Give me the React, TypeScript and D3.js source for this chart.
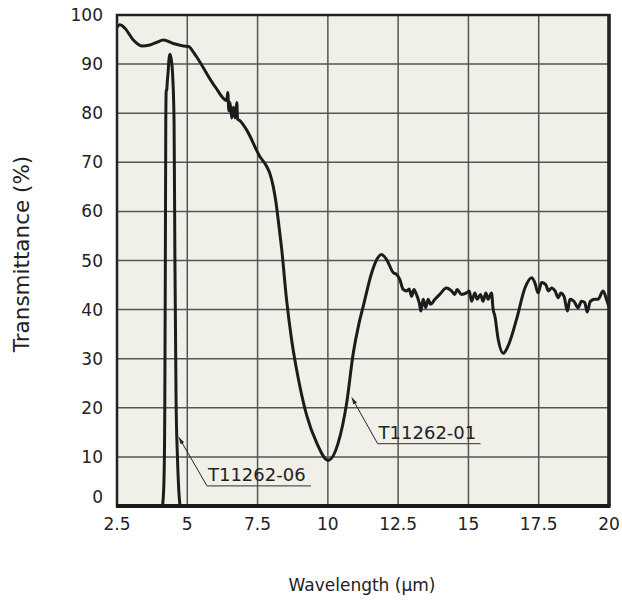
import React from "react";
import * as d3 from "d3";

const xTicks = [2.5, 5, 7.5, 10, 12.5, 15, 17.5, 20];
const yTicks = [0, 10, 20, 30, 40, 50, 60, 70, 80, 90, 100];

// T11262-01 transmittance curve (wavelength µm, %)
const wl01 = [
  2.5, 2.6, 2.78, 3.08, 3.38, 3.67, 3.9, 4.15, 4.5, 4.86, 5.05, 5.21, 5.33,
  6.0, 6.4, 6.44, 6.48, 6.52, 6.58, 6.64, 6.7, 6.76, 6.79, 6.87, 7.11, 7.58,
  7.82, 7.95, 8.06, 8.15, 8.25, 8.36, 8.53, 8.71, 9.0, 9.25, 9.6, 10.01,
  10.37, 10.67, 10.9, 11.1, 11.26, 11.56, 11.75, 11.91, 12.09, 12.33, 12.44,
  12.56, 12.68, 12.8, 12.89, 12.98, 13.06, 13.15, 13.25, 13.31, 13.39, 13.48,
  13.57, 13.65, 13.81, 13.98, 14.22, 14.4, 14.51, 14.6, 14.75, 14.93, 15.03,
  15.11, 15.23, 15.31, 15.43, 15.52, 15.62, 15.7, 15.82, 15.88, 15.94, 16.06,
  16.24, 16.41, 16.71, 17.01, 17.25, 17.36, 17.48, 17.6, 17.75, 17.84, 17.96,
  18.08, 18.2, 18.28, 18.4, 18.52, 18.61, 18.75, 18.9, 19.02, 19.14, 19.22,
  19.34, 19.5, 19.61, 19.79, 19.91, 20.0,
];
const tr01 = [
  97.5, 98.0, 97.3, 94.9, 93.7, 93.9, 94.4, 94.9, 94.2, 93.7, 93.6, 92.5,
  91.5, 85.3, 82.6, 84.2, 80.5, 82.2, 79.0, 81.2, 79.0, 82.2, 78.8, 78.5,
  76.6, 71.2, 69.2, 67.5, 65.0, 62.0, 57.5, 52.2, 42.1, 33.9, 24.5, 18.4,
  12.9, 9.3, 12.9, 21.0, 31.0, 37.0, 40.7, 47.5, 50.3, 51.2, 50.2, 47.5,
  47.2, 46.1, 44.1, 43.8, 44.2, 42.7, 44.1, 43.1, 41.4, 39.7, 42.1, 40.4,
  42.1, 41.1, 42.1, 43.1, 44.4, 43.8, 43.1, 44.1, 43.1, 43.4, 43.8, 41.7,
  43.4, 42.1, 43.1, 41.7, 43.4, 42.1, 43.4, 40.0, 38.7, 33.9, 31.1, 32.6,
  38.0, 44.4, 46.5, 45.5, 43.4, 45.5, 45.1, 43.8, 44.4, 43.8, 42.4, 43.4,
  42.7, 39.7, 42.1, 41.7, 40.4, 41.7, 41.4, 39.5, 41.7, 42.1, 42.1, 43.8,
  42.1, 40.5,
];

// T11262-06 transmittance curve
const wl06 = [
  4.12, 4.17, 4.2, 4.22, 4.235, 4.25, 4.27, 4.29, 4.32, 4.35, 4.38, 4.42,
  4.46, 4.49, 4.53, 4.56, 4.6, 4.65, 4.7, 4.74,
];
const tr06 = [
  0, 5, 20, 50, 78, 84.5, 84.8, 86.5, 88.5, 91.0, 92.0, 91.3, 89.5, 86.5,
  78, 50, 22, 10, 3, 0,
];

// annotation: label, arrow tip (wl, %), underline start (wl, %), underline end wl
const labelNames = ["T11262-06", "T11262-01"];
const labelTip = [
  [4.7, 14.0],
  [10.85, 22.1],
];
const labelBase = [
  [5.7, 4.1],
  [11.77, 12.7],
];
const labelEnd = [9.4, 15.43];

const W = 622;
const H = 605;
const left = 117;
const right = 609;
const top = 15;
const bottom = 506;

export default function App() {
  const x = d3.scaleLinear().domain([2.5, 20]).range([left, right]);
  const y = d3.scaleLinear().domain([0, 100]).range([bottom, top]);

  const mk = d3
    .line<[number, number]>()
    .x((d) => x(d[0]))
    .y((d) => y(d[1]))
    .curve(d3.curveMonotoneX);
  const path01 = mk(wl01.map((w, i) => [w, tr01[i]] as [number, number]));
  const path06 = mk(wl06.map((w, i) => [w, tr06[i]] as [number, number]));

  const font = "'DejaVu Sans', Verdana, sans-serif";
  const gridColor = "#555";

  return (
    <svg
      width={W}
      height={H}
      viewBox={`0 0 ${W} ${H}`}
      style={{ position: "absolute", left: 0, top: 0, background: "#fff" }}
    >
      <defs>
        <marker
          id="arr"
          viewBox="0 0 10 10"
          refX="10"
          refY="5"
          markerWidth="7"
          markerHeight="7"
          orient="auto"
        >
          <path d="M0,2 L10,5 L0,8 z" fill="#222" />
        </marker>
        <clipPath id="plotclip">
          <rect x={left} y={top} width={right - left} height={bottom - top} />
        </clipPath>
      </defs>
      <rect
        x={left}
        y={top}
        width={right - left}
        height={bottom - top}
        fill="#f1f0e8"
      />
      {xTicks.slice(1, -1).map((t) => (
        <line
          key={"gx" + t}
          x1={x(t)}
          x2={x(t)}
          y1={top}
          y2={bottom}
          stroke={gridColor}
          strokeWidth={1.5}
        />
      ))}
      {yTicks.slice(1, -1).map((t) => (
        <line
          key={"gy" + t}
          x1={left}
          x2={right}
          y1={y(t)}
          y2={y(t)}
          stroke={gridColor}
          strokeWidth={1.5}
        />
      ))}
      <g clipPath="url(#plotclip)">
        <path
          d={path01 || ""}
          fill="none"
          stroke="#1c1c1c"
          strokeWidth={3}
          strokeLinejoin="round"
        />
        <path
          d={path06 || ""}
          fill="none"
          stroke="#1c1c1c"
          strokeWidth={3}
          strokeLinejoin="round"
        />
      </g>
      {labelNames.map((name, i) => {
        const bx = x(labelBase[i][0]);
        const by = y(labelBase[i][1]);
        const ex = x(labelEnd[i]);
        return (
          <g key={name}>
            <line
              x1={bx}
              y1={by}
              x2={x(labelTip[i][0])}
              y2={y(labelTip[i][1])}
              stroke="#222"
              strokeWidth={1}
              markerEnd="url(#arr)"
            />
            <line x1={bx} y1={by} x2={ex} y2={by} stroke="#555" strokeWidth={1.2} />
            <text
              x={bx + 1}
              y={by - 5}
              fontFamily={font}
              fontSize={18}
              fill="#222"
            >
              {name}
            </text>
          </g>
        );
      })}
      <rect
        x={left}
        y={top}
        width={right - left}
        height={bottom - top}
        fill="none"
        stroke="#222"
        strokeWidth={2.5}
      />
      <line x1={left - 1} x2={right + 1.5} y1={bottom} y2={bottom} stroke="#1a1a1a" strokeWidth={4} />
      <line x1={right} x2={right} y1={top - 1} y2={bottom} stroke="#222" strokeWidth={3.5} />
      {yTicks.map((t) => (
        <text
          key={"ty" + t}
          x={103}
          y={y(t) + (t === 0 ? -9 : 0)}
          textAnchor="end"
          dominantBaseline="central"
          fontFamily={font}
          fontSize={17}
          fill="#222"
        >
          {t}
        </text>
      ))}
      {xTicks.map((t) => (
        <text
          key={"tx" + t}
          x={x(t)}
          y={530}
          textAnchor="middle"
          fontFamily={font}
          fontSize={17}
          fill="#222"
        >
          {t}
        </text>
      ))}
      <text
        transform={`translate(29,254) rotate(-90)`}
        textAnchor="middle"
        fontFamily={font}
        fontSize={21.5}
        fill="#222"
      >
        Transmittance (%)
      </text>
      <text
        x={362}
        y={591}
        textAnchor="middle"
        fontFamily={font}
        fontSize={17}
        fill="#222"
      >
        Wavelength (µm)
      </text>
    </svg>
  );
}
